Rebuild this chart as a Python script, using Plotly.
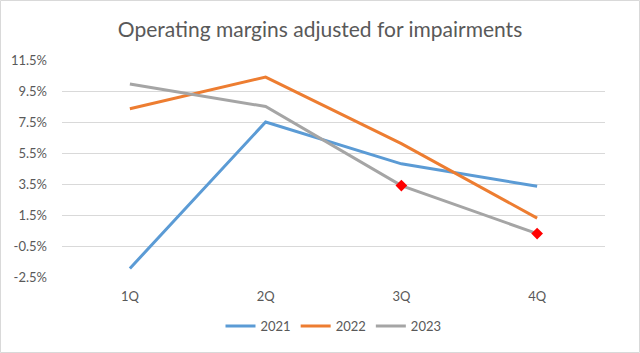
import plotly.graph_objects as go

quarters = ["1Q", "2Q", "3Q", "4Q"]
m2021 = [-1.95, 7.5, 4.8, 3.35]
m2022 = [8.35, 10.4, 6.1, 1.3]
m2023 = [9.95, 8.5, 3.4, 0.3]
marked_q = ["3Q", "4Q"]
marked_v = [3.4, 0.3]
ytick_vals = [-2.5, -0.5, 1.5, 3.5, 5.5, 7.5, 9.5, 11.5]
ytick_text = [f"{v:.1f}%" for v in ytick_vals]

colors = {"2021": "#5B9BD5", "2022": "#ED7D31", "2023": "#A5A5A5"}
FONT = "Lato, Open Sans, sans-serif"

fig = go.Figure()
for name, vals in [("2021", m2021), ("2022", m2022), ("2023", m2023)]:
    fig.add_trace(go.Scatter(x=quarters, y=vals, mode="lines", name=name,
                             line=dict(color=colors[name], width=3)))
fig.add_trace(go.Scatter(x=marked_q, y=marked_v, mode="markers", showlegend=False,
                         marker=dict(symbol="diamond", color="#FF0000", size=9)))

W, H = 640, 353
ml, mr, mt, mb = 62, 35, 60, 76
pw = W - ml - mr
ph = H - mt - mb

fig.update_layout(
    width=W, height=H,
    margin=dict(l=ml, r=mr, t=mt, b=mb),
    paper_bgcolor="white", plot_bgcolor="white",
    font=dict(family=FONT, color="#595959", size=13),
    title=dict(text="Operating margins adjusted for impairments", x=0.5, xanchor="center",
               y=1 - 30 / H, yanchor="middle", font=dict(size=21, color="#595959", family=FONT)),
    xaxis=dict(showgrid=False, showline=False, zeroline=False, ticks="",
               ticklabelstandoff=10,
               tickfont=dict(size=13, color="#595959"), range=[-0.5, 3.5]),
    yaxis=dict(range=[-2.5, 11.5], tickvals=ytick_vals, ticktext=ytick_text,
               showgrid=True, gridcolor="#D9D9D9", gridwidth=1, zeroline=False,
               showline=False, ticks="", ticklabelstandoff=14,
               tickfont=dict(size=13, color="#595959")),
    legend=dict(orientation="h", x=0.5, xanchor="center", y=-(326 - mt - ph) / ph, yanchor="middle",
                font=dict(size=13, color="#595959"), itemwidth=30),
    shapes=[dict(type="rect", xref="paper", yref="paper",
                 x0=(-ml + 0.5) / pw, x1=1 + (mr - 0.5) / pw,
                 y0=-(mb - 0.5) / ph, y1=1 + (mt - 0.5) / ph,
                 line=dict(color="#D9D9D9", width=1), layer="below")],
)

fig.write_html("out.html")
